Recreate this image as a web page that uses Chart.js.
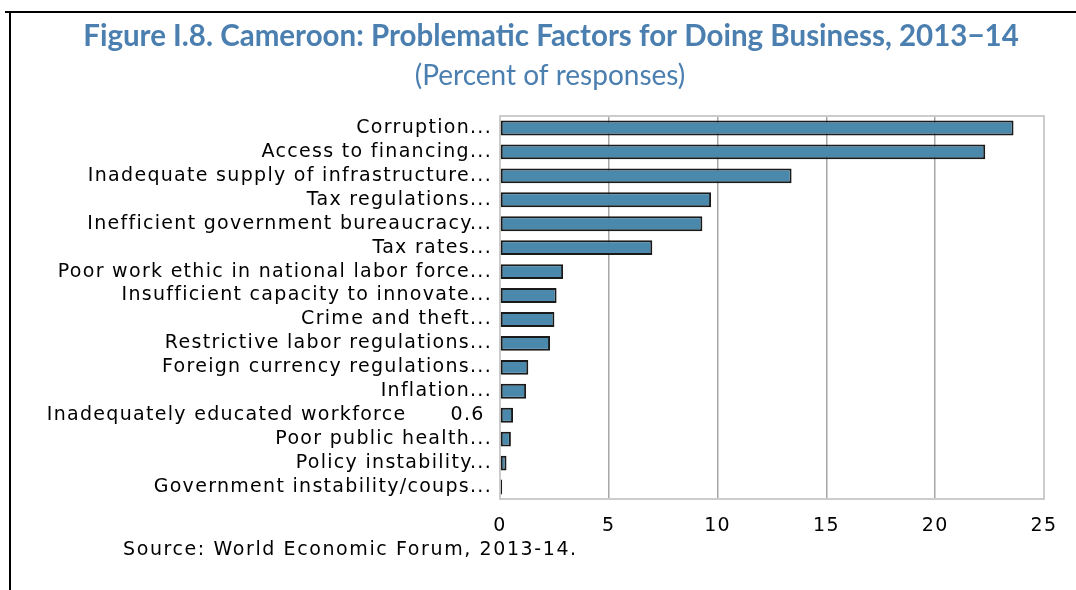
<!DOCTYPE html>
<html>
<head>
<meta charset="utf-8">
<script src="https://cdn.jsdelivr.net/npm/chart.js@4/dist/chart.umd.min.js"></script>
<style>
  html, body { margin: 0; padding: 0; background: #fff; }
  #wrap { width: 1076px; height: 590px; position: relative; }
</style>
</head>
<body>
<div id="wrap"><canvas id="factors-chart" width="1076" height="590"></canvas></div>
<script>
// Cameroon – problematic factors for doing business, horizontal bar chart.

const titleText = 'Figure I.8. Cameroon: Problematic Factors for Doing Business, 2013\u221214';
const subtitleText = '(Percent of responses)';
const sourceText = 'Source: World Economic Forum, 2013-14.';

const factorLabels = [
  'Corruption...',
  'Access to financing...',
  'Inadequate supply of infrastructure...',
  'Tax regulations...',
  'Inefficient government bureaucracy...',
  'Tax rates...',
  'Poor work ethic in national labor force...',
  'Insufficient capacity to innovate...',
  'Crime and theft...',
  'Restrictive labor regulations...',
  'Foreign currency regulations...',
  'Inflation...',
  'Inadequately educated workforce      0.6 ',
  'Poor public health...',
  'Policy instability...',
  'Government instability/coups...'
];

const responseShares = [23.6, 22.3, 13.4, 9.7, 9.3, 7.0, 2.9, 2.6, 2.5, 2.3, 1.3, 1.2, 0.6, 0.5, 0.3, 0.1];

const xTicks = [0, 5, 10, 15, 20, 25];

const BLUE_TITLE = '#4b7fb0';
const BAR_FILL = '#4a89ab';
const LABEL_FONT = 'DejaVu Sans';
const LABEL_SPACING = '1.3px';

// wider tracking for the axis labels
const tracking = {
  id: 'tracking',
  beforeDraw(chart) { chart.ctx.letterSpacing = LABEL_SPACING; }
};

// heading, outer rule lines, plot frame and the source note
const decorations = {
  id: 'decorations',
  beforeDatasetsDraw(chart) {
    const { ctx, chartArea: a } = chart;
    ctx.save();
    ctx.strokeStyle = '#cccccc';
    ctx.lineWidth = 2;
    ctx.strokeRect(a.left, a.top, a.right - a.left, a.bottom - a.top);
    ctx.restore();
  },
  afterDraw(chart) {
    const { ctx } = chart;
    ctx.save();
    ctx.strokeStyle = '#000';
    ctx.lineWidth = 2;
    ctx.beginPath();
    ctx.moveTo(5, 12);
    ctx.lineTo(1076, 12);
    ctx.moveTo(10, 12);
    ctx.lineTo(10, 590);
    ctx.stroke();

    ctx.letterSpacing = '0px';
    ctx.fillStyle = BLUE_TITLE;
    ctx.textBaseline = 'middle';
    ctx.textAlign = 'center';
    ctx.font = 'bold 29.5px Lato';
    ctx.fillText(titleText, 551, 36);
    ctx.font = '28px Lato';
    ctx.fillText(subtitleText, 550, 76);

    ctx.letterSpacing = '1.6px';
    ctx.fillStyle = '#000';
    ctx.font = '19px "' + LABEL_FONT + '"';
    ctx.textAlign = 'left';
    ctx.fillText(sourceText, 123, 550);
    ctx.restore();
  }
};

new Chart(document.getElementById('factors-chart'), {
  type: 'bar',
  data: {
    labels: factorLabels,
    datasets: [{
      data: responseShares,
      backgroundColor: BAR_FILL,
      borderColor: '#1a1a1a',
      borderWidth: 2,
      borderSkipped: false,
      categoryPercentage: 1,
      barPercentage: 0.62
    }]
  },
  options: {
    indexAxis: 'y',
    responsive: false,
    animation: false,
    layout: { padding: { top: 116, right: 32, bottom: 51, left: 0 } },
    plugins: {
      legend: { display: false },
      tooltip: { enabled: false }
    },
    scales: {
      x: {
        min: 0,
        max: 25,
        afterBuildTicks(scale) { scale.ticks = xTicks.map(v => ({ value: v })); },
        afterFit(scale) { scale.height = 40; },
        border: { display: false },
        grid: {
          drawTicks: false,
          lineWidth: 1.5,
          color: ctx => (ctx.tick && (ctx.tick.value === 0 || ctx.tick.value === 25)) ? 'rgba(0,0,0,0)' : '#a6a6a6'
        },
        ticks: {
          color: '#000',
          padding: 16,
          font: { family: LABEL_FONT, size: 19 }
        }
      },
      y: {
        afterFit(scale) { scale.width = 500; },
        border: { display: false },
        grid: { display: false, drawTicks: false },
        ticks: {
          color: '#000',
          padding: 8,
          autoSkip: false,
          font: { family: LABEL_FONT, size: 19 }
        }
      }
    }
  },
  plugins: [tracking, decorations]
});
</script>
</body>
</html>
